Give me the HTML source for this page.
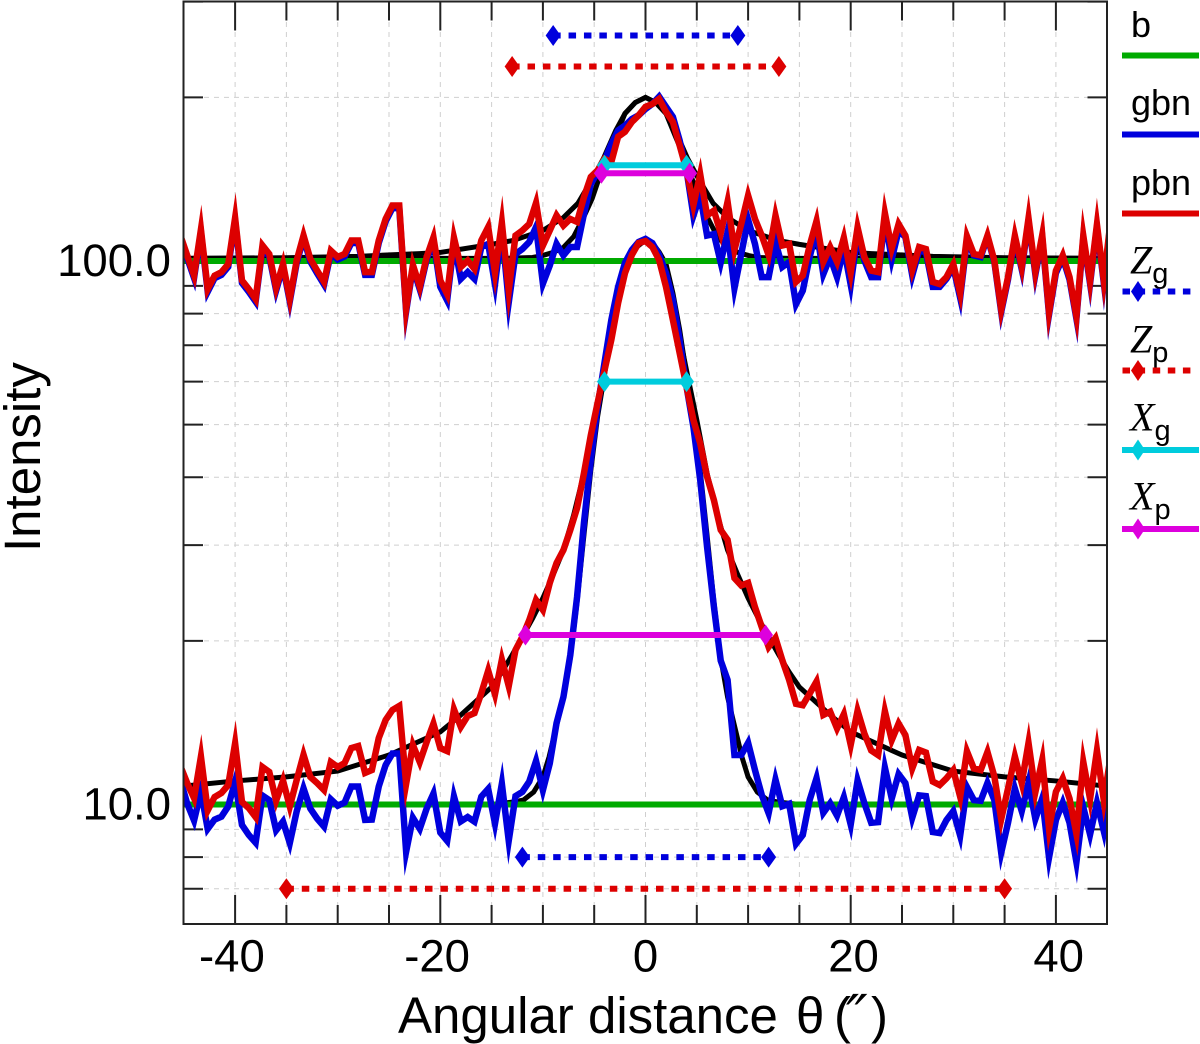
<!DOCTYPE html>
<html lang="en">
<head>
<meta charset="utf-8">
<title>Angular distance intensity profile</title>
<style>
html,body{margin:0;padding:0;background:#fff;}
svg{display:block;font-family:"Liberation Sans",sans-serif;}
</style>
</head>
<body>
<svg id="chart" xmlns="http://www.w3.org/2000/svg" width="1200" height="1044" viewBox="0 0 1200 1044">
  <defs><clipPath id="plot-clip"><rect x="183" y="1" width="924" height="923"/></clipPath></defs>
  <rect x="0" y="0" width="1200" height="1044" fill="#fff"/>
  <g id="grid"></g>
  <g id="ticks"></g>
  <g id="series" clip-path="url(#plot-clip)"></g>
  <g id="markers"></g>
  <rect x="183.5" y="1.5" width="923.5" height="922.5" fill="none" stroke="#222" stroke-width="2"/>
  <g id="tick-labels" font-size="45.5" fill="#000"></g>
  <text x="398" y="1033" font-size="51" fill="#000">Angular distance<tspan x="796">θ</tspan><tspan x="834">(</tspan><tspan x="846" font-family="'DejaVu Sans',sans-serif" font-size="58" font-style="italic" dy="3">″</tspan><tspan x="871" dy="-3">)</tspan></text>
  <text transform="translate(40,552) rotate(-90)" font-size="51" fill="#000">Intensity</text>

  <g fill="#000">
    <text x="1131" y="37" font-size="36">b</text>
    <text x="1131" y="115" font-size="36">gbn</text>
    <text x="1131" y="195" font-size="36">pbn</text>
    <text x="1130" y="273.5" font-family="'Liberation Serif',serif" font-style="italic" font-size="40">Z<tspan font-family="'Liberation Sans',sans-serif" font-style="normal" font-size="29" dy="9.5">g</tspan></text>
    <text x="1130" y="352.5" font-family="'Liberation Serif',serif" font-style="italic" font-size="40">Z<tspan font-family="'Liberation Sans',sans-serif" font-style="normal" font-size="29" dy="9.5">p</tspan></text>
    <text x="1130" y="430.5" font-family="'Liberation Serif',serif" font-style="italic" font-size="40">X<tspan font-family="'Liberation Sans',sans-serif" font-style="normal" font-size="29" dy="9.5">g</tspan></text>
    <text x="1130" y="509.5" font-family="'Liberation Serif',serif" font-style="italic" font-size="40">X<tspan font-family="'Liberation Sans',sans-serif" font-style="normal" font-size="29" dy="9.5">p</tspan></text>
    <line x1="1122" x2="1199" y1="55.5" y2="55.5" stroke="#00aa00" stroke-width="6"/>
    <line x1="1122" x2="1199" y1="134.5" y2="134.5" stroke="#0000dd" stroke-width="6"/>
    <line x1="1122" x2="1199" y1="213.5" y2="213.5" stroke="#dd0000" stroke-width="6"/>
    <line x1="1122.5" x2="1194" y1="291.5" y2="291.5" stroke="#0000dd" stroke-width="6" stroke-dasharray="7.5 7.6"/>
    <polygon points="1138,281 1145,291.5 1138,302 1131,291.5" fill="#0000dd"/>
    <line x1="1122.5" x2="1194" y1="370.5" y2="370.5" stroke="#dd0000" stroke-width="6" stroke-dasharray="7.5 7.6"/>
    <polygon points="1138,360 1145,370.5 1138,381 1131,370.5" fill="#dd0000"/>
    <line x1="1122" x2="1199" y1="450" y2="450" stroke="#00ccdd" stroke-width="6"/>
    <polygon points="1138,439.5 1145,450 1138,460.5 1131,450" fill="#00ccdd"/>
    <line x1="1122" x2="1199" y1="529" y2="529" stroke="#dd00dd" stroke-width="6"/>
    <polygon points="1138,518.5 1145,529 1138,539.5 1131,529" fill="#dd00dd"/>
  </g>
</svg>
<script>
// ---- Chart data ----
const sampleTheta = [-45.33,-44.67,-44,-43.33,-42.67,-42,-41.33,-40.67,-40,-39.33,-38.67,-38,-37.33,-36.67,-36,-35.33,-34.67,-34,-33.33,-32.67,-32,-31.33,-30.67,-30,-29.33,-28.67,-28,-27.33,-26.67,-26,-25.33,-24.67,-24,-23.33,-22.67,-22,-21.33,-20.67,-20,-19.33,-18.67,-18,-17.33,-16.67,-16,-15.33,-14.67,-14,-13.33,-12.67,-12,-11.33,-10.67,-10,-9.33,-8.67,-8,-7.33,-6.67,-6,-5.33,-4.67,-4,-3.33,-2.67,-2,-1.33,-0.67,0,0.67,1.33,2,2.67,3.33,4,4.67,5.33,6,6.67,7.33,8,8.67,9.33,10,10.67,11.33,12,12.67,13.33,14,14.67,15.33,16,16.67,17.33,18,18.67,19.33,20,20.67,21.33,22,22.67,23.33,24,24.67,25.33,26,26.67,27.33,28,28.67,29.33,30,30.67,31.33,32,32.67,33.33,34,34.67,35.33,36,36.67,37.33,38,38.67,39.33,40,40.67,41.33,42,42.67,43.33,44,44.67,45.33];

const pbnUpper = [111.4,102.4,93.4,120.5,88.8,94.0,95.4,98.7,126.5,92.1,88.8,85.1,106.8,103.0,88.8,99.6,83.3,100.2,111.4,100.9,96.0,91.5,104.5,101.7,103.0,109.1,109.1,95.4,95.4,109.1,119.5,126.5,126.5,75.6,99.6,89.6,101.7,110.7,92.1,86.9,113.1,97.5,100.2,96.7,109.1,115.5,89.6,129.2,81.1,111.4,113.8,117.0,128.4,106.8,113.8,121.3,116.2,119.5,118.0,131.1,142.8,146.8,154.1,152.1,169.3,172.9,180.2,185.4,192.2,194.5,198.7,188.0,180.2,163.1,146.8,124.6,147.7,121.3,123.8,112.1,132.0,103.0,117.0,132.0,119.5,111.4,102.4,123.1,106.8,107.5,91.5,94.0,106.8,119.5,99.6,106.1,99.6,111.4,92.1,118.0,101.7,96.0,95.4,127.3,104.5,117.0,111.4,96.0,106.1,105.2,91.5,90.7,93.4,98.7,85.1,111.4,103.0,102.4,111.4,100.2,79.4,93.4,114.5,93.4,129.2,88.8,121.3,75.6,96.0,102.4,93.4,74.5,123.8,83.3,129.2,84.6,118.7];

const gbnUpper = [110.2,101.3,92.4,119.2,87.8,93.0,94.3,97.6,125.1,91.1,87.8,84.2,105.6,101.9,87.8,98.5,82.4,99.1,110.2,99.8,94.9,90.5,103.3,100.6,101.9,107.9,107.9,94.3,94.3,107.9,118.2,125.1,125.1,74.8,98.5,88.6,100.6,109.5,89.6,84.6,112.1,92.7,95.4,92.7,106.1,107.5,85.9,126.5,77.7,103.0,105.2,108.4,115.5,90.7,98.1,107.5,102.4,106.1,106.1,122.0,138.5,145.8,153.1,164.2,173.9,177.5,182.5,185.4,190.4,194.5,200.7,192.2,184.1,166.6,146.8,120.5,132.8,111.4,112.1,98.1,117.0,85.9,103.0,119.5,107.5,93.4,93.4,109.1,97.5,99.6,83.3,88.2,101.7,115.5,94.6,101.7,93.4,107.5,86.9,114.5,100.2,93.4,93.4,125.7,98.7,113.8,110.7,93.4,104.5,103.8,89.6,89.6,92.7,97.5,83.3,109.1,102.4,101.7,110.7,99.6,78.6,92.4,113.4,92.4,127.9,87.8,120.0,74.8,95.0,101.3,92.4,73.7,122.5,82.4,127.9,83.7,117.5];

const pbnLower = [11.77,10.95,10.19,12.97,9.69,10.32,10.50,10.86,13.71,10.11,9.85,9.48,11.72,11.48,10.06,11.19,9.77,11.09,12.44,11.24,10.95,10.63,11.97,11.72,11.92,12.70,12.81,11.43,11.57,13.25,14.30,14.92,15.18,10.19,13.03,11.97,13.03,14.12,12.70,12.54,15.11,13.89,14.55,14.73,16.03,17.83,15.57,19.07,16.03,19.25,20.35,21.84,23.78,22.80,25.57,27.82,29.39,32.00,35.10,40.70,47.80,54.8,62.9,71.6,83.7,95.0,102.6,107.9,108.8,106.1,100.4,89.6,77.9,67.7,58.7,51.0,46.2,40.1,36.3,32.0,30.7,26.1,25.3,25.57,23.08,21.21,19.49,20.25,18.44,16.95,15.32,15.23,16.00,16.84,14.61,14.82,13.80,14.70,12.52,15.15,13.51,12.57,12.33,15.32,13.06,14.09,13.42,11.57,12.60,12.46,11.02,10.86,11.17,11.57,10.04,12.68,11.65,11.57,12.52,11.26,9.11,10.70,12.60,10.48,13.99,9.77,13.14,8.48,10.55,11.17,10.25,8.30,13.22,9.36,13.80,9.50,12.25];

const gbnLower = [11.09,10.04,9.03,11.26,8.84,9.38,9.50,9.92,11.57,9.17,8.79,8.37,10.48,10.19,8.73,9.56,8.12,9.71,11.02,9.83,9.42,8.98,10.34,9.94,10.08,10.79,10.79,9.36,9.38,10.79,11.82,12.41,12.41,7.37,9.83,8.79,9.83,10.79,8.88,8.42,10.93,9.23,9.50,9.23,10.34,10.86,8.48,12.33,7.74,10.36,10.55,11.02,12.52,10.13,11.90,14.12,15.77,18.84,24.09,32.96,43.0,53.9,64.9,77.9,89.6,99.2,104.8,108.4,109.8,107.9,102.6,95.0,84.8,71.6,58.7,49.5,39.6,29.8,23.1,18.4,16.95,12.33,12.33,13.25,11.57,10.41,9.28,11.72,9.85,10.11,8.32,8.79,10.19,11.67,9.36,10.28,9.25,10.86,8.50,11.67,10.06,9.25,9.28,12.70,9.69,11.57,10.95,9.09,10.41,10.36,8.90,8.86,9.36,9.89,8.25,11.09,10.19,10.15,11.19,10.19,7.67,9.25,11.33,9.09,11.92,8.68,11.24,7.32,9.36,10.32,9.25,7.17,10.95,8.07,10.95,8.25,10.86];

const backgroundLevels = [100, 10];

const modelWideLowerTheta = [-45,-40,-35,-30,-25,-20,-18,-15,-14,-13,-12,-11,-10,-9,-8,-7,-6,-5,-4,-3,-2,-1,0,1,2,3,4,5,6,7,8,9,10,11,12,13,14,15,18,20,25,30,35,40,45];
const modelWideLower = [10.81,11.05,11.24,11.52,12.33,13.60,14.61,16.44,17.53,18.84,20.35,22.0,23.98,26.45,29.39,34.1,40.7,51.0,62.9,77.9,95.0,105.6,109.3,105.6,95.0,77.9,62.9,51.0,40.7,34.1,29.39,26.45,23.98,22.0,20.35,18.84,17.53,16.44,14.61,13.60,12.33,11.52,11.24,11.05,10.81];

const modelNarrowLowerTheta = [-45,-15,-13,-11.9,-10.9,-10,-9.4,-8.7,-8,-7.33,-6.67,-6,-5.33,-4.67,-4,-3.33,-2.67,-2,-1.33,-0.67,0,0.67,1.33,2,2.67,3.33,4,4.67,5.33,6,6.67,7.33,8,8.7,9.4,10,10.9,11.9,13,15,45];
const modelNarrowLower = [10,10,10.10,10.19,10.54,11.24,12.23,13.89,15.77,18.59,23.59,31.3,41.2,51.7,61.6,74.7,87.3,98.7,103.9,107.9,109.8,107.9,103.9,98.7,87.3,74.7,61.6,51.7,41.2,31.3,23.59,18.59,15.77,13.89,12.23,11.24,10.54,10.19,10.10,10,10];

const modelWideUpperTheta = [-45,-35,-28,-22,-20,-15,-12.9,-10,-8,-6.6,-5.1,-4.1,-2.9,-2,-1,0,1,2,2.9,4.1,5.1,6.6,8,10,12.9,15,20,22,28,35,45];
const modelWideUpper = [101.1,101.4,102.0,103.2,103.7,107.3,109.1,113.8,120.2,127.6,142.4,154.4,173.8,186.8,195.7,200,195.7,186.8,173.8,154.4,142.4,127.6,120.2,113.8,109.1,107.3,103.7,103.2,102.0,101.4,101.1];

const modelNarrowUpperTheta = [-45,-14,-11,-10,-9,-8,-7,-6,-5.2,-4.1,-2.8,-2,-1,0,1,2,2.8,4.1,5.2,6,7,8,9,10,11,14,45];
const modelNarrowUpper = [101.1,101.1,101.5,102.4,103.7,105.9,110.9,120.7,130.3,149.9,171.6,186.8,195.7,200,195.7,186.8,171.6,149.9,130.3,120.7,110.9,105.9,103.7,102.4,101.5,101.1,101.1];

const zgUpperHalfWidth = 9.0;
const zgUpperLevel = 260;
const zpUpperHalfWidth = 13.0;
const zpUpperLevel = 228;
const xgUpperHalfWidth = 4.0;
const xgUpperLevel = 150;
const xpUpperHalfWidth = 4.3;
const xpUpperLevel = 145;
const xgLowerHalfWidth = 4.0;
const xgLowerLevel = 60;
const xpLowerHalfWidth = 11.7;
const xpLowerLevel = 20.5;
const zgLowerHalfWidth = 12.0;
const zgLowerLevel = 8;
const zpLowerHalfWidth = 35.0;
const zpLowerLevel = 7;

const xMinorTicks = [-40,-35,-30,-25,-20,-15,-10,-5,0,5,10,15,20,25,30,35,40];
const xMajorTicks = [-40,-20,0,20,40];
const xTickLabels = ["-40","-20","0","20","40"];
const yTicks = [7,8,9,10,20,30,40,50,60,70,80,90,100,200,300];
const yMajorTicks = [10,100];
const yTickLabels = ["10.0","100.0"];

// ---- Axis functions ----
const SVGNS = 'http://www.w3.org/2000/svg';
const CURVE_WIDTH = 6.5;
function xAxis(theta){ return 645.5 + 10.26 * theta; }
function yAxis(intensity){ return 804.5 - 543.5 * (Math.log10(intensity) - 1); }

function make(tag, parentId){
  const el = document.createElementNS(SVGNS, tag);
  document.getElementById(parentId).appendChild(el);
  return el;
}
function pathFrom(thetas, values){
  return thetas.map(function(t, i){
    return (i ? 'L' : 'M') + xAxis(t).toFixed(2) + ' ' + yAxis(values[i]).toFixed(2);
  }).join('');
}
// Sharp noise spikes are stroked with long miter tips, so the stroke vertex is
// pulled back far enough that the tip lands just past the plotted value.
function tipOffset(y, a, b, dxa, dxb, dir, off, allowance){
  const v = y - dir * off;
  const half = (Math.atan2(dxa, Math.abs(v - a)) + Math.atan2(dxb, Math.abs(v - b))) / 2;
  return (CURVE_WIDTH / 2) / Math.sin(half) - allowance;
}
function spikePathFrom(thetas, values, allowance){
  const xs = thetas.map(xAxis);
  const ys = values.map(yAxis);
  return xs.map(function(x, i){
    let y = ys[i];
    if (i > 0 && i < xs.length - 1) {
      const a = ys[i - 1];
      const b = ys[i + 1];
      if ((y - a) * (y - b) > 0) {
        const dir = y > a ? 1 : -1;
        const near = dir > 0 ? Math.max(a, b) : Math.min(a, b);
        const dxa = x - xs[i - 1];
        const dxb = xs[i + 1] - x;
        let lo = 0;
        let hi = Math.abs(y - near) * 0.9;
        if (tipOffset(y, a, b, dxa, dxb, dir, 0, allowance) > 0) {
          for (let n = 0; n < 14; n++) {
            const mid = (lo + hi) / 2;
            if (tipOffset(y, a, b, dxa, dxb, dir, mid, allowance) > mid) { lo = mid; } else { hi = mid; }
          }
          y = y - dir * lo;
        }
      }
    }
    return (i ? 'L' : 'M') + x.toFixed(2) + ' ' + y.toFixed(2);
  }).join('');
}
function styleCurve(el, d, colour, width){
  el.setAttribute('d', d);
  el.setAttribute('fill', 'none');
  el.setAttribute('stroke', colour);
  el.setAttribute('stroke-width', width);
  el.setAttribute('stroke-linejoin', 'miter');
  el.setAttribute('stroke-miterlimit', '40');
}

// ---- Grid ----
xMinorTicks.forEach(function(t){
  const el = make('line', 'grid');
  
  
  el.setAttribute('x1', xAxis(t));
  el.setAttribute('x2', xAxis(t));
  el.setAttribute('y1', 2);
  el.setAttribute('y2', 923);
  el.setAttribute('stroke', '#cfcfcf');
  el.setAttribute('stroke-width', 1);
  el.setAttribute('stroke-dasharray', '5 5');
});
yTicks.forEach(function(v){
  const el = make('line', 'grid');
  
  
  el.setAttribute('x1', 184);
  el.setAttribute('x2', 1106);
  el.setAttribute('y1', yAxis(v));
  el.setAttribute('y2', yAxis(v));
  el.setAttribute('stroke', '#cfcfcf');
  el.setAttribute('stroke-width', 1);
  el.setAttribute('stroke-dasharray', '5 5');
});

// ---- Ticks ----
xMinorTicks.forEach(function(t){
  const len = xMajorTicks.indexOf(t) >= 0 ? 29 : 19;
  const bottom = make('line', 'ticks');
  
  
  bottom.setAttribute('x1', xAxis(t));
  bottom.setAttribute('x2', xAxis(t));
  bottom.setAttribute('y1', 924);
  bottom.setAttribute('y2', 924 - len);
  bottom.setAttribute('stroke', '#222');
  bottom.setAttribute('stroke-width', 2);
  const top = make('line', 'ticks');
  
  
  top.setAttribute('x1', xAxis(t));
  top.setAttribute('x2', xAxis(t));
  top.setAttribute('y1', 1.5);
  top.setAttribute('y2', 1.5 + len);
  top.setAttribute('stroke', '#222');
  top.setAttribute('stroke-width', 2);
});
yTicks.forEach(function(v){
  const len = yMajorTicks.indexOf(v) >= 0 ? 29 : 19.5;
  const left = make('line', 'ticks');
  
  
  left.setAttribute('x1', 183.5);
  left.setAttribute('x2', 183.5 + len);
  left.setAttribute('y1', yAxis(v));
  left.setAttribute('y2', yAxis(v));
  left.setAttribute('stroke', '#222');
  left.setAttribute('stroke-width', 2);
  const right = make('line', 'ticks');
  
  
  right.setAttribute('x1', 1107);
  right.setAttribute('x2', 1107 - len);
  right.setAttribute('y1', yAxis(v));
  right.setAttribute('y2', yAxis(v));
  right.setAttribute('stroke', '#222');
  right.setAttribute('stroke-width', 2);
});

// ---- Tick labels ----
xMajorTicks.forEach(function(t, i){
  const el = make('text', 'tick-labels');
  
  
  el.setAttribute('x', xAxis(t) + (t < 0 ? -3.2 : (t > 0 ? 2.8 : 0)));
  el.setAttribute('y', 971.5);
  el.setAttribute('text-anchor', 'middle');
  el.textContent = xTickLabels[i];
});
yMajorTicks.forEach(function(v, i){
  const el = make('text', 'tick-labels');
  
  
  el.setAttribute('x', 171);
  el.setAttribute('y', yAxis(v) + 15);
  el.setAttribute('text-anchor', 'end');
  el.textContent = yTickLabels[i];
});

// ---- Series (bottom to top) ----
const m1 = make('path', 'series');


styleCurve(m1, pathFrom(modelWideUpperTheta, modelWideUpper), '#000', 5);

const m2 = make('path', 'series');


styleCurve(m2, pathFrom(modelNarrowUpperTheta, modelNarrowUpper), '#000', 5);

const m3 = make('path', 'series');


styleCurve(m3, pathFrom(modelWideLowerTheta, modelWideLower), '#000', 5);

const m4 = make('path', 'series');


styleCurve(m4, pathFrom(modelNarrowLowerTheta, modelNarrowLower), '#000', 5);

backgroundLevels.forEach(function(level){
  const el = make('line', 'series');
  
  
  el.setAttribute('x1', 183);
  el.setAttribute('x2', 1107);
  el.setAttribute('y1', yAxis(level));
  el.setAttribute('y2', yAxis(level));
  el.setAttribute('stroke', '#00aa00');
  el.setAttribute('stroke-width', 6);
});

const s1 = make('path', 'series');


styleCurve(s1, spikePathFrom(sampleTheta, gbnUpper, 13), '#0000dd', CURVE_WIDTH);

const s2 = make('path', 'series');


styleCurve(s2, spikePathFrom(sampleTheta, gbnLower, 4), '#0000dd', CURVE_WIDTH);

const s3 = make('path', 'series');


styleCurve(s3, spikePathFrom(sampleTheta, pbnUpper, 13), '#dd0000', CURVE_WIDTH);

const s4 = make('path', 'series');


styleCurve(s4, spikePathFrom(sampleTheta, pbnLower, 10), '#dd0000', CURVE_WIDTH);

// ---- Width markers ----
function drawSpan(line, left, right, half, level, colour, dashed){
  const y = yAxis(level);
  const x1 = xAxis(-half);
  const x2 = xAxis(half);
  line.setAttribute('x1', x1);
  line.setAttribute('x2', x2);
  line.setAttribute('y1', y);
  line.setAttribute('y2', y);
  line.setAttribute('stroke', colour);
  line.setAttribute('stroke-width', 6);
  if (dashed) { line.setAttribute('stroke-dasharray', '7.5 7.9'); }
  left.setAttribute('points', x1 + ',' + (y - 10.5) + ' ' + (x1 + 7.5) + ',' + y + ' ' + x1 + ',' + (y + 10.5) + ' ' + (x1 - 7.5) + ',' + y);
  left.setAttribute('fill', colour);
  right.setAttribute('points', x2 + ',' + (y - 10.5) + ' ' + (x2 + 7.5) + ',' + y + ' ' + x2 + ',' + (y + 10.5) + ' ' + (x2 - 7.5) + ',' + y);
  right.setAttribute('fill', colour);
}

const zgUL = make('line', 'markers');


const zgUA = make('polygon', 'markers');


const zgUB = make('polygon', 'markers');


drawSpan(zgUL, zgUA, zgUB, zgUpperHalfWidth, zgUpperLevel, '#0000dd', true);

const zpUL = make('line', 'markers');


const zpUA = make('polygon', 'markers');


const zpUB = make('polygon', 'markers');


drawSpan(zpUL, zpUA, zpUB, zpUpperHalfWidth, zpUpperLevel, '#dd0000', true);

const xgUL = make('line', 'markers');


const xgUA = make('polygon', 'markers');


const xgUB = make('polygon', 'markers');


drawSpan(xgUL, xgUA, xgUB, xgUpperHalfWidth, xgUpperLevel, '#00ccdd', false);

const xpUL = make('line', 'markers');


const xpUA = make('polygon', 'markers');


const xpUB = make('polygon', 'markers');


drawSpan(xpUL, xpUA, xpUB, xpUpperHalfWidth, xpUpperLevel, '#dd00dd', false);

const xgLL = make('line', 'markers');


const xgLA = make('polygon', 'markers');


const xgLB = make('polygon', 'markers');


drawSpan(xgLL, xgLA, xgLB, xgLowerHalfWidth, xgLowerLevel, '#00ccdd', false);

const xpLL = make('line', 'markers');


const xpLA = make('polygon', 'markers');


const xpLB = make('polygon', 'markers');


drawSpan(xpLL, xpLA, xpLB, xpLowerHalfWidth, xpLowerLevel, '#dd00dd', false);

const zgLL = make('line', 'markers');


const zgLA = make('polygon', 'markers');


const zgLB = make('polygon', 'markers');


drawSpan(zgLL, zgLA, zgLB, zgLowerHalfWidth, zgLowerLevel, '#0000dd', true);

const zpLL = make('line', 'markers');


const zpLA = make('polygon', 'markers');


const zpLB = make('polygon', 'markers');


drawSpan(zpLL, zpLA, zpLB, zpLowerHalfWidth, zpLowerLevel, '#dd0000', true);
</script>
</body>
</html>
